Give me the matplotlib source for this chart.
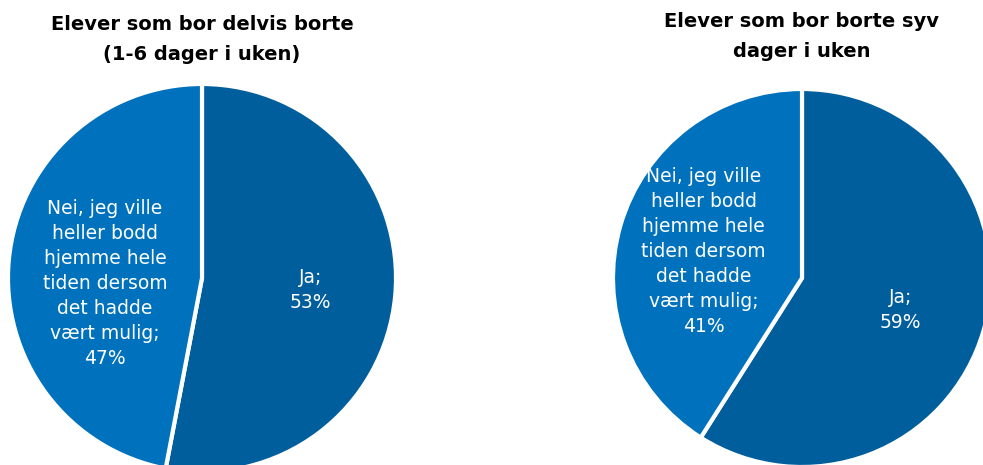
import matplotlib
matplotlib.use('Agg')
import matplotlib.pyplot as plt

W, H = 983, 465

titles = ['Elever som bor delvis borte\n(1-6 dager i uken)',
          'Elever som bor borte syv\ndager i uken']
labels = ['Ja', 'Nei, jeg ville\nheller bodd\nhjemme hele\ntiden dersom\ndet hadde\nvært mulig']
left_vals = [53, 47]
right_vals = [59, 41]
colors = ['#005E9C', '#0071BD']

plt.rcParams['font.family'] = ['DejaVu Sans']

fig = plt.figure(figsize=(W / 100, H / 100), dpi=100)

# (center x, center y, radius) in pixels, top-left origin
pies = [
    (202, 278, 194, left_vals, titles[0], 25, (-0.50, -0.03), (0.56, -0.06)),
    (802, 278, 189, right_vals, titles[1], 22, (-0.52, 0.14), (0.52, -0.17)),
]

for cx, cy, r, vals, title, ty, nei_pos, ja_pos in pies:
    ax = fig.add_axes([(cx - r) / W, (H - cy - r) / H, 2 * r / W, 2 * r / H])
    ax.pie(vals, colors=colors, startangle=90, counterclock=False, radius=1,
           wedgeprops=dict(edgecolor='white', linewidth=3))
    ax.set_xlim(-1, 1)
    ax.set_ylim(-1, 1)
    ax.set_aspect('equal')
    ax.axis('off')
    ax.text(ja_pos[0], ja_pos[1], f'{labels[0]};\n{vals[0]}%', ha='center', va='center',
            color='white', fontsize=13.5, linespacing=1.4)
    ax.text(nei_pos[0], nei_pos[1], f'{labels[1]};\n{vals[1]}%', ha='center', va='center',
            color='white', fontsize=13.5, linespacing=1.4)
    fig.text(cx / W, 1 - (ty - 10) / H, title, ha='center', va='top', fontsize=14,
             fontweight='bold', color='black', linespacing=1.75)

fig.savefig('out.png', dpi=100)
